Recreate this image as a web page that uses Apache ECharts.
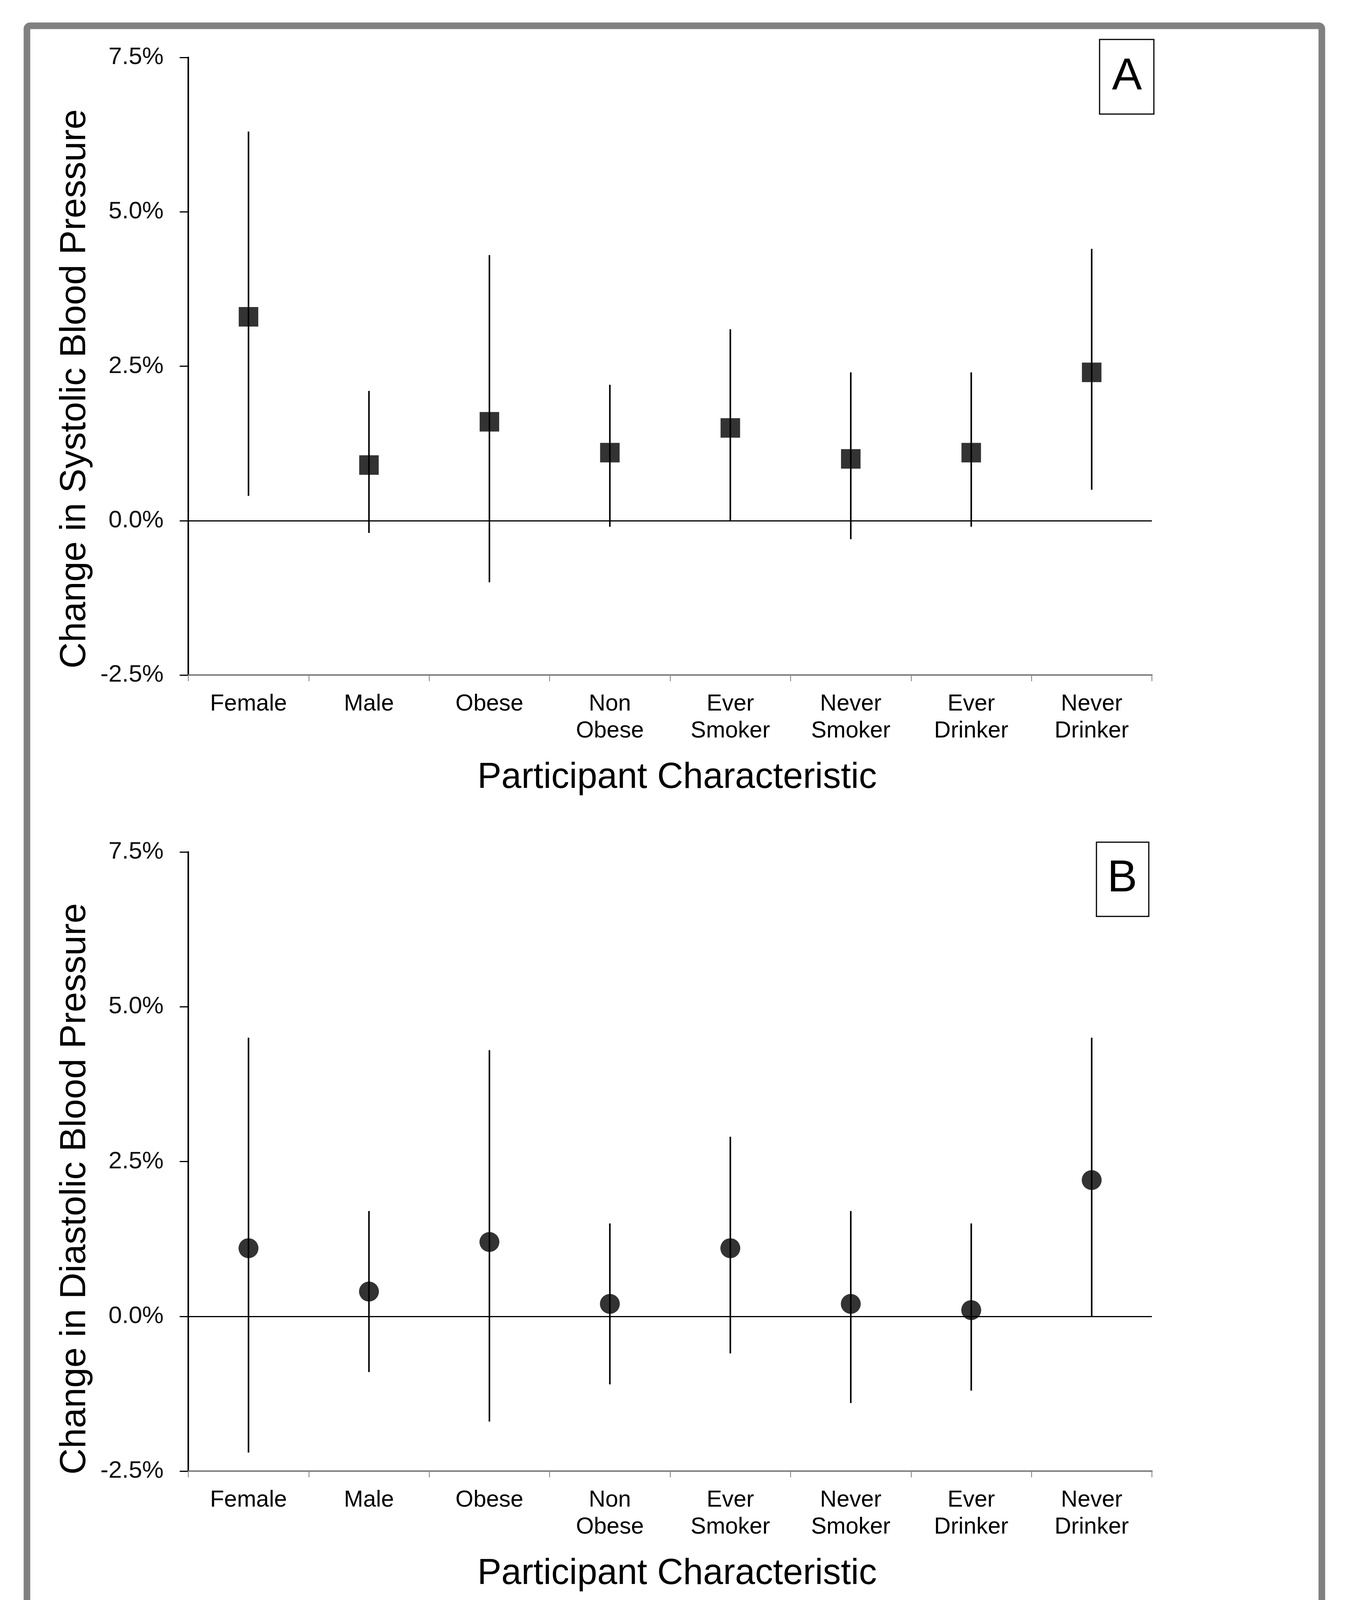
<!DOCTYPE html>
<html>
<head>
<meta charset="utf-8">
<script src="https://cdn.jsdelivr.net/npm/echarts@6/dist/echarts.min.js"></script>
<style>
  html, body { margin: 0; padding: 0; background: #ffffff; }
  #chart { width: 3451px; height: 4173px; }
</style>
</head>
<body>
<div id="chart"></div>
<script>
// ---- data ----
const categories = ['Female', 'Male', 'Obese', 'Non\nObese', 'Ever\nSmoker', 'Never\nSmoker', 'Ever\nDrinker', 'Never\nDrinker'];
const yMin = -2.5;
const yMax = 7.5;
const yStep = 2.5;

const systolicEstimate = [3.3, 0.9, 1.6, 1.1, 1.5, 1.0, 1.1, 2.4];
const systolicLower    = [0.4, -0.2, -1.0, -0.1, 0.0, -0.3, -0.1, 0.5];
const systolicUpper    = [6.3, 2.1, 4.3, 2.2, 3.1, 2.4, 2.4, 4.4];

const diastolicEstimate = [1.1, 0.4, 1.2, 0.2, 1.1, 0.2, 0.1, 2.2];
const diastolicLower    = [-2.2, -0.9, -1.7, -1.1, -0.6, -1.4, -1.2, 0.0];
const diastolicUpper    = [4.5, 1.7, 4.3, 1.5, 2.9, 1.7, 1.5, 4.5];

const xTitle = 'Participant Characteristic';
const yTitleA = 'Change in Systolic Blood Pressure';
const yTitleB = 'Change in Diastolic Blood Pressure';

// ---- build chart ----
const FONT = 'Liberation Sans, Arial, Helvetica, sans-serif';

function errorData(lo, hi) {
  return lo.map(function (v, i) { return [i, v, hi[i]]; });
}

function renderBar(params, api) {
  const x = api.value(0);
  const p1 = api.coord([x, api.value(1)]);
  const p2 = api.coord([x, api.value(2)]);
  return {
    type: 'line',
    shape: { x1: p1[0], y1: p1[1], x2: p2[0], y2: p2[1] },
    style: { stroke: '#000000', lineWidth: 4 }
  };
}

function xAxisCfg(gridIndex) {
  return {
    type: 'category',
    gridIndex: gridIndex,
    data: categories,
    boundaryGap: true,
    axisLine: { show: true, onZero: false, lineStyle: { color: '#808080', width: 4 } },
    axisTick: { show: true, length: 16, lineStyle: { color: '#808080', width: 2 } },
    axisLabel: { color: '#000000', fontFamily: FONT, fontSize: 59, lineHeight: 69, margin: 40, interval: 0 },
    name: xTitle,
    nameLocation: 'middle',
    nameGap: 218,
    nameTextStyle: { color: '#000000', fontFamily: FONT, fontSize: 92, lineHeight: 92, padding: [0, 0, 0, 36] },
    splitLine: { show: false }
  };
}

function yAxisCfg(gridIndex, title, shiftPad) {
  return {
    type: 'value',
    gridIndex: gridIndex,
    min: yMin,
    max: yMax,
    interval: yStep,
    axisLine: { show: true, onZero: false, lineStyle: { color: '#000000', width: 4 } },
    axisTick: { show: true, length: 22, lineStyle: { color: '#000000', width: 3 } },
    axisLabel: {
      color: '#111111', fontFamily: FONT, fontSize: 62, margin: 63,
      formatter: function (v) { return v.toFixed(1) + '%'; }
    },
    splitLine: { show: false },
    name: title,
    nameLocation: 'middle',
    nameGap: 243,
    nameTextStyle: { color: '#000000', fontFamily: FONT, fontSize: 93, lineHeight: 93, padding: [0, shiftPad, 0, 0] }
  };
}

const zeroLine = {
  silent: true,
  symbol: 'none',
  label: { show: false },
  lineStyle: { color: '#000000', width: 3, type: 'solid' },
  data: [{ yAxis: 0 }]
};

const option = {
  backgroundColor: '#ffffff',
  animation: false,
  grid: [
    { left: 482, width: 2467, top: 147, height: 1581 },
    { left: 482, width: 2467, top: 2181, height: 1585 }
  ],
  xAxis: [xAxisCfg(0), xAxisCfg(1)],
  yAxis: [yAxisCfg(0, yTitleA, 116), yAxisCfg(1, yTitleB, 140)],
  series: [
    {
      type: 'custom', xAxisIndex: 0, yAxisIndex: 0,
      data: errorData(systolicLower, systolicUpper),
      encode: { x: 0, y: [1, 2] },
      renderItem: renderBar,
      markLine: zeroLine,
      z: 2
    },
    {
      type: 'scatter', xAxisIndex: 0, yAxisIndex: 0,
      data: systolicEstimate,
      symbol: 'rect', symbolSize: 50,
      itemStyle: { color: '#000000' },
      z: 3
    },
    {
      type: 'custom', xAxisIndex: 1, yAxisIndex: 1,
      data: errorData(diastolicLower, diastolicUpper),
      encode: { x: 0, y: [1, 2] },
      renderItem: renderBar,
      markLine: zeroLine,
      z: 2
    },
    {
      type: 'scatter', xAxisIndex: 1, yAxisIndex: 1,
      data: diastolicEstimate,
      symbol: 'circle', symbolSize: 51,
      itemStyle: { color: '#000000' },
      z: 3
    }
  ],
  graphic: [
    {
      type: 'rect', z: 10,
      shape: { x: 69, y: 66, width: 3315, height: 4049, r: 8 },
      style: { fill: 'none', stroke: '#808080', lineWidth: 17 }
    },
    {
      type: 'rect', z: 10,
      shape: { x: 2815, y: 101, width: 139, height: 191 },
      style: { fill: '#ffffff', stroke: '#000000', lineWidth: 3 }
    },
    {
      type: 'text', z: 11,
      style: { text: 'A', x: 2885, y: 197, textAlign: 'center', align: 'center', textVerticalAlign: 'middle', verticalAlign: 'middle', fontFamily: FONT, fontSize: 115, fill: '#000000' }
    },
    {
      type: 'rect', z: 10,
      shape: { x: 2807, y: 2156, width: 134, height: 190 },
      style: { fill: '#ffffff', stroke: '#000000', lineWidth: 3 }
    },
    {
      type: 'text', z: 11,
      style: { text: 'B', x: 2873, y: 2250, textAlign: 'center', align: 'center', textVerticalAlign: 'middle', verticalAlign: 'middle', fontFamily: FONT, fontSize: 115, fill: '#000000' }
    }
  ]
};

const chart = echarts.init(document.getElementById('chart'), null, { renderer: 'canvas' });
chart.setOption(option);
</script>
</body>
</html>
